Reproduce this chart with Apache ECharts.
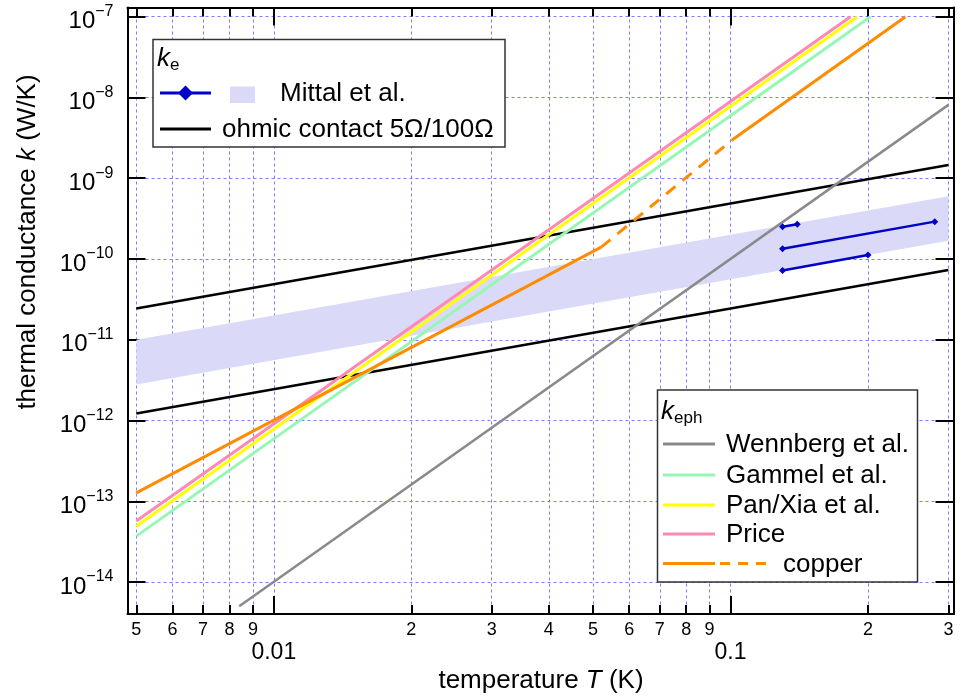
<!DOCTYPE html>
<html>
<head>
<meta charset="utf-8">
<script src="https://cdn.jsdelivr.net/npm/echarts@6/dist/echarts.min.js"></script>
<style>
html, body { margin: 0; padding: 0; background: #fff; }
#chart { width: 960px; height: 699px; }
</style>
</head>
<body>
<div id="chart"></div>
<script>
// Tick positions (temperature in K, conductance in W/K)
const xMinorTicks = [0.005, 0.006, 0.007, 0.008, 0.009, 0.02, 0.03, 0.04, 0.05, 0.06, 0.07, 0.08, 0.09, 0.2, 0.3];
const xMajorTicks = [0.01, 0.1];
const yTicks = [1e-14, 1e-13, 1e-12, 1e-11, 1e-10, 1e-9, 1e-8, 1e-7];

// Electronic conductance: ohmic contacts (5 Ω and 100 Ω)
const ohmicT = [0.005, 0.3];
const ohmic5K = [2.44e-11, 1.46e-9];
const ohmic100K = [1.22e-12, 7.3e-11];

// Mittal et al. band and measured segments
const mittalBandT = [0.005, 0.3];
const mittalBandLow = [2.8e-12, 1.68e-10];
const mittalBandHigh = [1.0e-11, 6.0e-10];
const mittalT1 = [0.13, 0.14];
const mittalK1 = [2.5e-10, 2.7e-10];
const mittalT2 = [0.13, 0.28];
const mittalK2 = [1.34e-10, 2.9e-10];
const mittalT3 = [0.13, 0.2];
const mittalK3 = [7.2e-11, 1.12e-10];

// Electron-phonon conductance
const wennbergT = [0.0084, 0.3];
const wennbergK = [5.0e-15, 8.1e-9];
const gammelT = [0.005, 0.2025];
const gammelK = [3.7e-14, 1e-7];
const panXiaT = [0.005, 0.1894];
const panXiaK = [4.9e-14, 1e-7];
const priceT = [0.005, 0.1831];
const priceK = [5.7e-14, 1e-7];
const copperLowT = [0.005, 0.0521];
const copperLowK = [1.27e-13, 1.40e-10];
const copperMidT = [0.0521, 0.1008];
const copperMidK = [1.40e-10, 2.97e-9];
const copperHighT = [0.1008, 0.2416];
const copperHighK = [2.97e-9, 1e-7];

const FONT = "'Liberation Sans', Arial, Helvetica, sans-serif";
const C = {
  grid: '#7b7bff',
  band: '#dadaf8',
  blue: '#0000c8',
  black: '#000000',
  grey: '#8a8a8a',
  green: '#96f7b4',
  yellow: '#ffff00',
  pink: '#ff88b4',
  orange: '#ff8c00'
};

const X_MIN = 0.004783, X_MAX = 0.3078;
const Y_MIN = 4.02e-15, Y_MAX = 1.30e-7;

function pairs(ts, ks) { return ts.map((t, i) => [t, ks[i]]); }

function curve(name, ts, ks, color, width, dash, z) {
  return {
    type: 'line', name: name, data: pairs(ts, ks),
    symbol: 'none', showSymbol: false, silent: true, z: z,
    lineStyle: { color: color, width: width, type: dash || 'solid', cap: 'butt' }
  };
}

function mittalSegment(ts, ks) {
  return {
    type: 'line', name: 'Mittal et al.', data: pairs(ts, ks),
    symbol: 'diamond', symbolSize: 7, showSymbol: true, silent: true, z: 6,
    itemStyle: { color: C.blue },
    lineStyle: { color: C.blue, width: 2.5 }
  };
}

function leadingDigit(v) {
  const p = Math.floor(Math.log10(v) + 1e-9);
  return String(Math.round(v / Math.pow(10, p)));
}

const commonX = {
  type: 'log', min: X_MIN, max: X_MAX, logBase: 10
};
const commonY = {
  type: 'log', min: Y_MIN, max: Y_MAX, logBase: 10
};

const chart = echarts.init(document.getElementById('chart'), null, { renderer: 'canvas' });

const option = {
  animation: false,
  backgroundColor: '#ffffff',
  grid: { left: 127.5, top: 7.5, right: 6.5, bottom: 85, containLabel: false, outerBoundsMode: 'none' },
  xAxis: [
    Object.assign({}, commonX, {
      position: 'bottom',
      axisLine: { show: true, onZero: false, lineStyle: { color: '#000', width: 2 } },
      axisTick: { show: true, inside: true, length: 9, customValues: xMinorTicks.concat(xMajorTicks), lineStyle: { color: '#000', width: 2 } },
      axisLabel: { show: true, customValues: xMinorTicks, margin: 7, formatter: leadingDigit, color: '#000', fontSize: 18, fontFamily: FONT },
      splitLine: { show: true, lineStyle: { color: C.grid, width: 1, type: [3, 3] } }
    }),
    Object.assign({}, commonX, {
      position: 'bottom',
      axisLine: { show: false },
      axisTick: { show: true, inside: true, length: 18, customValues: xMajorTicks, lineStyle: { color: '#000', width: 2 } },
      axisLabel: { show: true, customValues: xMajorTicks, margin: 27, formatter: v => String(v), color: '#000', fontSize: 23, fontFamily: FONT },
      splitLine: { show: false }
    }),
    Object.assign({}, commonX, {
      position: 'top',
      axisLine: { show: true, onZero: false, lineStyle: { color: '#000', width: 2 } },
      axisTick: { show: true, inside: true, length: 9, customValues: xMinorTicks, lineStyle: { color: '#000', width: 2 } },
      axisLabel: { show: false },
      splitLine: { show: false }
    }),
    Object.assign({}, commonX, {
      position: 'top',
      axisLine: { show: false },
      axisTick: { show: true, inside: true, length: 18, customValues: xMajorTicks, lineStyle: { color: '#000', width: 2 } },
      axisLabel: { show: false },
      splitLine: { show: false }
    })
  ],
  yAxis: [
    Object.assign({}, commonY, {
      position: 'left',
      axisLine: { show: true, onZero: false, lineStyle: { color: '#000', width: 2 } },
      axisTick: { show: true, inside: true, length: 18, customValues: yTicks, lineStyle: { color: '#000', width: 2 } },
      axisLabel: {
        show: true, customValues: yTicks, margin: 14, padding: [10, 0, 0, 0],
        formatter: v => '{b|10}{s|\u2212' + Math.round(-Math.log10(v)) + '}',
        rich: {
          b: { fontSize: 24, fontFamily: FONT, color: '#000', lineHeight: 36 },
          s: { fontSize: 16, fontFamily: FONT, color: '#000', lineHeight: 10, verticalAlign: 'top' }
        }
      },
      splitLine: { show: true, lineStyle: { color: C.grid, width: 1, type: [3, 3] } }
    }),
    Object.assign({}, commonY, {
      position: 'right',
      axisLine: { show: true, onZero: false, lineStyle: { color: '#000', width: 2 } },
      axisTick: { show: true, inside: true, length: 18, customValues: yTicks, lineStyle: { color: '#000', width: 2 } },
      axisLabel: { show: false },
      splitLine: { show: false }
    })
  ],
  series: [
    {
      type: 'custom', name: 'Mittal band', silent: true, z: 1, clip: true,
      data: [[mittalBandT[0], mittalBandLow[0]]],
      renderItem: function (params, api) {
        const pts = [];
        for (let i = 0; i < mittalBandT.length; i++) pts.push(api.coord([mittalBandT[i], mittalBandHigh[i]]));
        for (let i = mittalBandT.length - 1; i >= 0; i--) pts.push(api.coord([mittalBandT[i], mittalBandLow[i]]));
        return { type: 'polygon', shape: { points: pts }, style: { fill: C.band, stroke: null } };
      }
    },
    curve('ohmic 5 Ω', ohmicT, ohmic5K, C.black, 2.5, null, 3),
    curve('ohmic 100 Ω', ohmicT, ohmic100K, C.black, 2.5, null, 3),
    curve('Wennberg et al.', wennbergT, wennbergK, C.grey, 2.5, null, 4),
    curve('Gammel et al.', gammelT, gammelK, C.green, 3, null, 4),
    curve('Pan/Xia et al.', panXiaT, panXiaK, C.yellow, 3, null, 4),
    curve('Price', priceT, priceK, C.pink, 3, null, 4),
    curve('copper', copperLowT, copperLowK, C.orange, 3, null, 4),
    curve('copper', copperMidT, copperMidK, C.orange, 3, [12, 9], 4),
    curve('copper', copperHighT, copperHighK, C.orange, 3, null, 4),
    mittalSegment(mittalT1, mittalK1),
    mittalSegment(mittalT2, mittalK2),
    mittalSegment(mittalT3, mittalK3)
  ],
  graphic: buildGraphics()
};

function txt(x, y, text, opts) {
  return Object.assign({
    type: 'text', x: x, y: y, z: 101, silent: true,
    style: Object.assign({ text: text, fill: '#000', fontSize: 26, fontFamily: FONT, align: 'left', verticalAlign: 'middle' }, opts || {})
  });
}
function seg(x1, y1, x2, y2, color, width, dash) {
  return {
    type: 'line', z: 101, silent: true,
    shape: { x1: x1, y1: y1, x2: x2, y2: y2 },
    style: { stroke: color, lineWidth: width, lineDash: dash || null }
  };
}

function buildGraphics() {
  const g = [];
  const subRich = {
    k: { fontSize: 26, fontFamily: FONT, fontStyle: 'italic', fill: '#000', lineHeight: 30 },
    s: { fontSize: 17, fontFamily: FONT, fill: '#000', lineHeight: 12, verticalAlign: 'bottom' }
  };

  // electronic legend
  g.push({ type: 'rect', z: 100, silent: true, shape: { x: 153, y: 39.5, width: 352, height: 107.5 },
    style: { fill: '#fff', stroke: '#333', lineWidth: 1.5 } });
  g.push({ type: 'text', z: 101, silent: true, x: 157, y: 44,
    style: { text: '{k|k}{s|e}', rich: subRich, align: 'left', verticalAlign: 'top' } });
  g.push(seg(160, 93, 211, 93, C.blue, 3));
  g.push({ type: 'polygon', z: 102, silent: true,
    shape: { points: [[185.5, 85.5], [193, 93], [185.5, 100.5], [178, 93]] }, style: { fill: C.blue } });
  g.push({ type: 'rect', z: 101, silent: true, shape: { x: 230, y: 86.5, width: 25, height: 16.5 }, style: { fill: C.band } });
  g.push(txt(280, 94, 'Mittal et al.'));
  g.push(seg(160, 129, 211, 129, C.black, 3));
  g.push(txt(222, 130, 'ohmic contact 5\u03A9/100\u03A9'));

  // electron-phonon legend
  g.push({ type: 'rect', z: 100, silent: true, shape: { x: 657.5, y: 390, width: 260, height: 192 },
    style: { fill: '#fff', stroke: '#333', lineWidth: 1.5 } });
  g.push({ type: 'text', z: 101, silent: true, x: 661, y: 397,
    style: { text: '{k|k}{s|eph}', rich: subRich, align: 'left', verticalAlign: 'top' } });
  const rows = [
    ['Wennberg et al.', C.grey, 444],
    ['Gammel et al.', C.green, 475],
    ['Pan/Xia et al.', C.yellow, 505],
    ['Price', C.pink, 534]
  ];
  rows.forEach(r => {
    g.push(seg(663, r[2], 715, r[2], r[1], 3));
    g.push(txt(726, r[2] + 1, r[0]));
  });
  g.push(seg(663, 563.5, 715, 563.5, C.orange, 3));
  g.push(seg(720, 563.5, 773, 563.5, C.orange, 3, [10, 8]));
  g.push(txt(783, 564.5, 'copper'));

  // axis titles
  const titleRich = {
    n: { fontSize: 26, fontFamily: FONT, fill: '#000' },
    i: { fontSize: 26, fontFamily: FONT, fontStyle: 'italic', fill: '#000' }
  };
  g.push({ type: 'text', z: 101, silent: true, x: 541, y: 681,
    style: { text: '{n|temperature }{i|T}{n| (K)}', rich: titleRich, align: 'center', verticalAlign: 'middle' } });
  g.push({ type: 'text', z: 101, silent: true, x: 28, y: 242, rotation: Math.PI / 2,
    style: { text: '{n|thermal conductance }{i|k}{n| (W/K)}', rich: titleRich, align: 'center', verticalAlign: 'middle' } });
  return g;
}

chart.setOption(option);
</script>
</body>
</html>
